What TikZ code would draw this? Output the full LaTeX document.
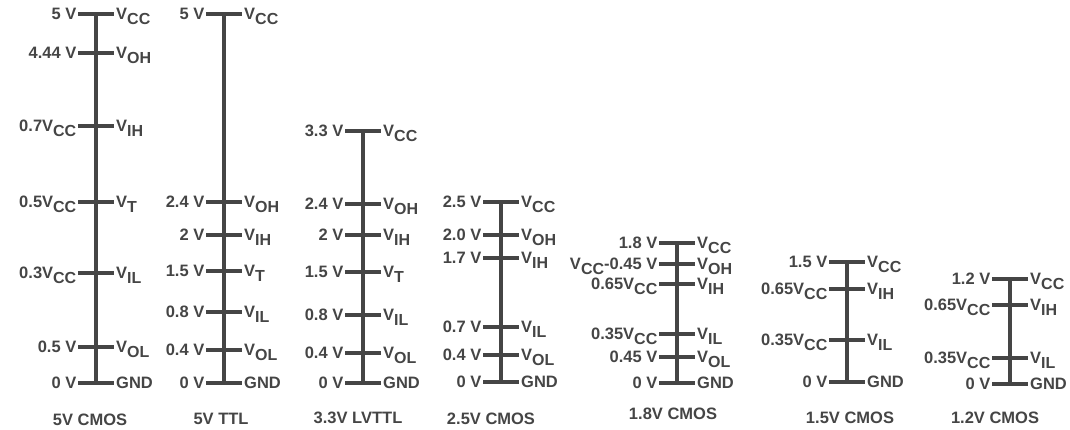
\documentclass[tikz,border=0pt]{standalone}
\usepackage{fontspec}
\setmainfont{Liberation Sans}
\definecolor{ink}{HTML}{454545}
\newcommand{\sub}[1]{\raisebox{-5pt}{\fontsize{16}{16}\selectfont #1}}
% one tick on a rail: name, x, y, left text, right text
\newcommand{\level}[5]{%
  \draw[tick] (#2-18,#3) coordinate (#1l) -- (#2+18,#3) coordinate (#1r);
  \node[leftlbl] (#1L) at (#1l) {#4};
  \node[rightlbl] (#1R) at (#1r) {#5};
}
\tikzset{
  rail/.style={draw=ink, line width=4.5pt},
  tick/.style={draw=ink, line width=4.2pt},
  lbl/.style={text=ink, font=\bfseries\fontsize{16.5}{16.5}\selectfont, inner sep=0pt},
  leftlbl/.style={lbl, anchor=base east, xshift=-1.5pt, yshift=-5.8pt},
  rightlbl/.style={lbl, anchor=base west, xshift=2pt, yshift=-5.8pt},
  family/.style={lbl}
}
\begin{document}
\begin{tikzpicture}[x=1pt,y=-1pt]
  \useasboundingbox (0,0) rectangle (1070,429);
  % 5V CMOS
  \draw[rail] (96,14) -- (96,383);
  \foreach \y/\lft/\rgt [count=\i] in {14/5 V/V\sub{CC}, 53/4.44 V/V\sub{OH},
      126/0.7V\sub{CC}/V\sub{IH}, 202/0.5V\sub{CC}/V\sub{T}, 273/0.3V\sub{CC}/V\sub{IL},
      347/0.5 V/V\sub{OL}, 383/0 V/GND}
    {\level{a\i}{96}{\y}{\lft}{\rgt}}
  \node[family] (cmosA) at (90,420) {5V CMOS};
  % 5V TTL
  \draw[rail] (224,14) -- (224,383);
  \foreach \y/\lft/\rgt [count=\i] in {14/5 V/V\sub{CC}, 202/2.4 V/V\sub{OH},
      235/2 V/V\sub{IH}, 271/1.5 V/V\sub{T}, 312/0.8 V/V\sub{IL},
      350/0.4 V/V\sub{OL}, 383/0 V/GND}
    {\level{b\i}{224}{\y}{\lft}{\rgt}}
  \node[family] (ttlB) at (221,419) {5V TTL};
  % 3.3V LVTTL
  \draw[rail] (363,131) -- (363,383);
  \foreach \y/\lft/\rgt [count=\i] in {131/3.3 V/V\sub{CC}, 204/2.4 V/V\sub{OH},
      235/2 V/V\sub{IH}, 272/1.5 V/V\sub{T}, 315/0.8 V/V\sub{IL},
      353/0.4 V/V\sub{OL}, 383/0 V/GND}
    {\level{c\i}{363}{\y}{\lft}{\rgt}}
  \node[family] (lvttlC) at (358,418) {3.3V LVTTL};
  % 2.5V CMOS
  \draw[rail] (501,202) -- (501,382);
  \foreach \y/\lft/\rgt [count=\i] in {202/2.5 V/V\sub{CC}, 235/2.0 V/V\sub{OH},
      258/1.7 V/V\sub{IH}, 327/0.7 V/V\sub{IL}, 355/0.4 V/V\sub{OL}, 382/0 V/GND}
    {\level{d\i}{501}{\y}{\lft}{\rgt}}
  \node[family] (cmosD) at (491,419) {2.5V CMOS};
  % 1.8V CMOS
  \draw[rail] (677,243) -- (677,383);
  \foreach \y/\lft/\rgt [count=\i] in {243/1.8 V/V\sub{CC}, 264/V\sub{CC}-0.45 V/V\sub{OH},
      284/0.65V\sub{CC}/V\sub{IH}, 334/0.35V\sub{CC}/V\sub{IL},
      357/0.45 V/V\sub{OL}, 383/0 V/GND}
    {\level{e\i}{677}{\y}{\lft}{\rgt}}
  \node[family] (cmosE) at (673,414) {1.8V CMOS};
  % 1.5V CMOS
  \draw[rail] (847,262) -- (847,382);
  \foreach \y/\lft/\rgt [count=\i] in {262/1.5 V/V\sub{CC}, 289/0.65V\sub{CC}/V\sub{IH},
      340/0.35V\sub{CC}/V\sub{IL}, 382/0 V/GND}
    {\level{f\i}{847}{\y}{\lft}{\rgt}}
  \node[family] (cmosF) at (850,418) {1.5V CMOS};
  % 1.2V CMOS
  \draw[rail] (1010,279) -- (1010,384);
  \foreach \y/\lft/\rgt [count=\i] in {279/1.2 V/V\sub{CC}, 305/0.65V\sub{CC}/V\sub{IH},
      358/0.35V\sub{CC}/V\sub{IL}, 384/0 V/GND}
    {\level{g\i}{1010}{\y}{\lft}{\rgt}}
  \node[family] (cmosG) at (995,418) {1.2V CMOS};
\end{tikzpicture}
\end{document}
